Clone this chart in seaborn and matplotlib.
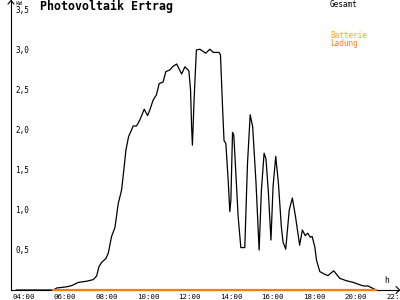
import matplotlib
matplotlib.use("Agg")
import matplotlib.pyplot as plt
import matplotlib.transforms as mtransforms
from matplotlib.lines import Line2D
import seaborn as sns
import pandas as pd

# ---- data (hours of day, kW) ----
pv_hours = [4.00, 5.79, 5.96, 6.44, 6.68, 7.00, 7.40, 7.72, 7.88, 7.99, 8.12, 8.33,
            8.44, 8.60, 8.76, 8.92, 9.08, 9.19, 9.29, 9.42, 9.56, 9.64, 9.80, 9.96,
            10.17, 10.33, 10.44, 10.60, 10.76, 10.89, 11.08, 11.21, 11.40, 11.53,
            11.73, 11.97, 12.13, 12.32, 12.40, 12.45, 12.49, 12.57, 12.68, 12.85,
            13.13, 13.33, 13.49, 13.77, 13.84, 13.94, 14.01, 14.10, 14.21, 14.29,
            14.34, 14.42, 14.48, 14.58, 14.69, 14.82, 15.01, 15.14, 15.27, 15.39,
            15.55, 15.70, 15.81, 15.94, 16.03, 16.15, 16.27, 16.37, 16.50, 16.63,
            16.77, 16.85, 16.98, 17.15, 17.30, 17.45, 17.65, 17.78, 17.92, 18.04,
            18.16, 18.25, 18.38, 18.46, 18.62, 18.86, 19.01, 19.29, 19.58, 19.90,
            20.22, 20.54, 20.73, 20.94, 21.26, 21.34]
pv_kw = [0.0, 0.0, 0.025, 0.04, 0.055, 0.095, 0.11, 0.13, 0.175, 0.29, 0.345, 0.395,
         0.46, 0.67, 0.78, 1.08, 1.25, 1.50, 1.75, 1.92, 2.00, 2.05, 2.05, 2.125,
         2.26, 2.18, 2.25, 2.375, 2.44, 2.58, 2.60, 2.73, 2.75, 2.79,
         2.825, 2.70, 2.79, 2.74, 2.50, 2.04, 1.81, 2.375, 3.00, 3.01,
         2.96, 3.01, 2.97, 2.97, 2.94, 2.29, 1.87, 1.83, 1.375, 0.98,
         1.12, 1.97, 1.94, 1.46, 0.92, 0.53, 0.53, 1.58, 2.19, 2.04,
         1.34, 0.50, 1.25, 1.71, 1.64, 1.20, 0.625, 1.29, 1.67, 1.33,
         0.79, 0.60, 0.51, 1.00, 1.15, 0.92, 0.56, 0.75, 0.68, 0.71,
         0.66, 0.67, 0.54, 0.375, 0.23, 0.196, 0.18, 0.24, 0.146, 0.116,
         0.096, 0.066, 0.05, 0.05, 0.01, 0.0]
bat_hours = [5.79, 21.34]
bat_kw = [0.0, 0.0]

x_ticks = [4, 6, 8, 10, 12, 14, 16, 18, 20, 22]
x_labels = ["04:00", "06:00", "08:00", "10:00", "12:00", "14:00", "16:00",
            "18:00", "20:00", "22:00"]
y_ticks = [0.5, 1.0, 1.5, 2.0, 2.5, 3.0, 3.5]
y_labels = ["0,5", "1,0", "1,5", "2,0", "2,5", "3,0", "3,5"]

title = "Photovoltaik Ertrag"
series_names = ["Gesamt", "Batterie", "Ladung"]

sns.set_style("white")
plt.rcParams["font.family"] = ["DejaVu Sans Mono", "DejaVu Sans"]
plt.rcParams["axes.linewidth"] = 0.8

W, H = 400, 300
fig = plt.figure(figsize=(4, 3), dpi=100)
fig.patch.set_facecolor("white")
ax = fig.add_axes([11 / W, 10 / H, 389 / W, 290 / H])
ax.set_facecolor("white")

df_pv = pd.DataFrame({"h": pv_hours, "kw": pv_kw})
df_bat = pd.DataFrame({"h": bat_hours, "kw": bat_kw})
sns.lineplot(data=df_pv, x="h", y="kw", ax=ax, color="black", linewidth=0.9,
             estimator=None, sort=False)
sns.lineplot(data=df_bat, x="h", y="kw", ax=ax, color="#FF8000", linewidth=1.6,
             estimator=None, sort=False)
for i, ln in enumerate(ax.lines):
    ln.set_clip_on(False)
    ln.set_zorder(3 + i)

ax.set_xlim(3.759, 22.48)
ax.set_ylim(0, 3.625)
ax.set_xlabel("")
ax.set_ylabel("")
for s in ["top", "right"]:
    ax.spines[s].set_visible(False)
for s in ["left", "bottom"]:
    ax.spines[s].set_color("black")

ax.set_xticks(x_ticks)
ax.set_xticklabels(x_labels, fontsize=5.3)
ax.set_yticks(y_ticks)
ax.set_yticklabels(y_labels, fontsize=5.5)
ax.tick_params(axis="x", direction="inout", length=4.5, width=0.8, pad=0.5,
               colors="black")
ax.tick_params(axis="y", direction="inout", length=4.5, width=0.8, pad=-5.3,
               colors="black")
off = mtransforms.ScaledTranslation(-4 / 100, 0, fig.dpi_scale_trans)
for lab in ax.get_xticklabels():
    lab.set_ha("left")
    lab.set_transform(lab.get_transform() + off)
for lab in ax.get_yticklabels():
    lab.set_ha("left")

# axis arrows
tf = fig.transFigure
fig.add_artist(Line2D([396 / W, 399.5 / W, 396 / W],
                      [(H - 286.5) / H, (H - 290) / H, (H - 293.5) / H],
                      transform=tf, color="black", lw=0.8))
fig.add_artist(Line2D([8 / W, 11 / W, 14 / W],
                      [(H - 4) / H, (H - 0.5) / H, (H - 4) / H],
                      transform=tf, color="black", lw=0.8))

# texts
fig.text(40 / W, 1 - 6.5 / H, title, fontsize=8.4, fontweight="bold",
         ha="left", va="center", color="black")
fig.text(330 / W, 1 - 4.5 / H, series_names[0], fontsize=5.6, ha="left",
         va="center", color="black")
fig.text(330 / W, 1 - 35 / H, series_names[1], fontsize=5.6, ha="left",
         va="center", color="#FFAA00")
fig.text(330 / W, 1 - 43 / H, series_names[2], fontsize=5.6, ha="left",
         va="center", color="#FF8000")
fig.text(15 / W, 1 - 3.3 / H, "kW", fontsize=4.2, ha="left", va="center",
         color="black")
fig.text(387 / W, 1 - 280.5 / H, "h", fontsize=5.8, ha="center", va="center",
         color="black")

fig.savefig("out.png", dpi=100, facecolor="white")
